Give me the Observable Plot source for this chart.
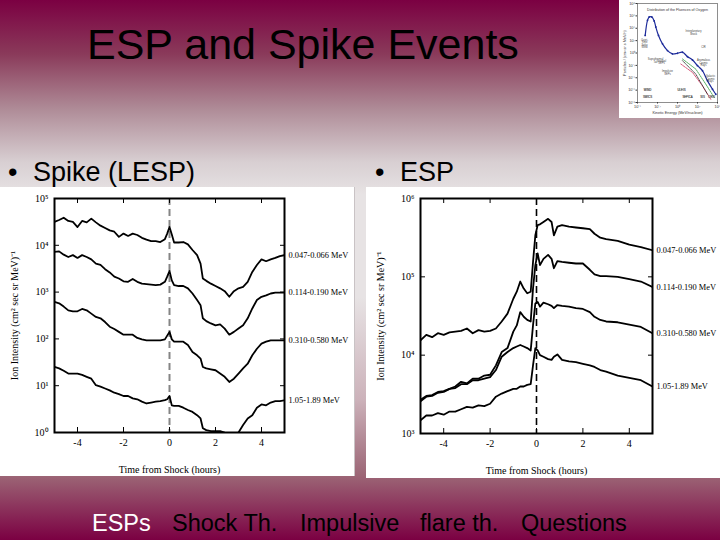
<!DOCTYPE html>
<html>
<head>
<meta charset="utf-8">
<script src="https://cdn.jsdelivr.net/npm/d3@7"></script>
<script src="https://cdn.jsdelivr.net/npm/@observablehq/plot@0.6"></script>
<style>
html,body{margin:0;padding:0;}
body{width:720px;height:540px;overflow:hidden;position:relative;font-family:"Liberation Sans",Arial,sans-serif;
background:linear-gradient(to bottom,#7b0042 0%,#8a3a5a 10%,#ae8a96 20%,#d8cfd2 30%,#e7e3e4 36%,#e7e3e4 55%,#ccb2ba 74%,#9c6676 88%,#7b0042 100%);}
.abs{position:absolute;white-space:nowrap;line-height:1;}
#title{left:87px;top:23px;font-size:43px;color:#000;}
.bul{font-size:27px;color:#000;top:159px;}
.nav{font-size:23.5px;top:512px;color:#000;}
.panel{background:#fff;}
svg{display:block;}
</style>
</head>
<body>
<div id="title" class="abs">ESP and Spike Events</div>
<div class="abs bul" style="left:8px">•</div>
<div class="abs bul" style="left:33px">Spike (LESP)</div>
<div class="abs bul" style="left:375px">•</div>
<div class="abs bul" style="left:400px">ESP</div>

<div id="thumb" class="abs panel" style="left:619px;top:0;width:101px;height:118px;"></div>
<div id="leftChart" class="abs panel" style="left:0;top:187px;width:354px;height:289px;box-shadow:1px 0 0 #c9c3c5;"></div>
<div id="rightChart" class="abs panel" style="left:366px;top:187px;width:354px;height:291px;"></div>

<div class="abs nav" style="left:92px;color:#fff">ESPs</div>
<div class="abs nav" style="left:172px">Shock Th.</div>
<div class="abs nav" style="left:300px">Impulsive</div>
<div class="abs nav" style="left:420px">flare th.</div>
<div class="abs nav" style="left:521px">Questions</div>

<script>
// ---------- Spike (LESP) event: time from shock (hours) and log10 ion intensity ----------
const bandNames = ["0.047-0.066 MeV", "0.114-0.190 MeV", "0.310-0.580 MeV", "1.05-1.89 MeV"];

const spikeHours = [-5,-4.8,-4.6,-4.4,-4.2,-4,-3.8,-3.6,-3.4,-3.2,-3,-2.8,-2.6,-2.4,-2.2,-2,-1.8,-1.6,-1.4,-1.2,-1,-0.8,-0.6,-0.4,-0.2,-0.1,0,0.1,0.2,0.4,0.6,0.8,1,1.2,1.35,1.45,1.6,1.8,2,2.2,2.4,2.6,2.8,3,3.2,3.4,3.6,3.8,4,4.2,4.4,4.6,4.8,5];
const spikeLog047 = [4.50,4.54,4.59,4.52,4.50,4.39,4.52,4.49,4.57,4.49,4.42,4.37,4.32,4.29,4.18,4.25,4.20,4.25,4.22,4.16,4.12,4.09,4.09,4.07,4.13,4.25,4.39,4.23,4.06,4.06,4.07,4.02,3.90,3.79,3.61,3.29,3.24,3.18,3.13,3.08,3.02,2.90,3.02,3.08,3.11,3.22,3.43,3.58,3.70,3.66,3.70,3.73,3.77,3.79];
const spikeLog114 = [3.86,3.87,3.80,3.75,3.79,3.73,3.79,3.75,3.70,3.61,3.58,3.49,3.42,3.33,3.29,3.23,3.22,3.28,3.22,3.18,3.17,3.16,3.15,3.16,3.22,3.33,3.45,3.25,3.15,3.13,3.13,3.08,2.97,2.83,2.72,2.44,2.38,2.33,2.29,2.31,2.22,2.09,2.15,2.22,2.29,2.44,2.65,2.83,2.90,2.93,2.97,2.99,2.99,2.99];
const spikeLog310 = [2.79,2.76,2.69,2.61,2.59,2.59,2.64,2.61,2.54,2.47,2.44,2.36,2.26,2.21,2.15,2.09,2.09,2.09,2.02,1.99,1.97,1.97,1.97,1.97,1.99,2.07,2.15,1.99,1.94,1.94,1.94,1.87,1.72,1.65,1.58,1.40,1.37,1.35,1.33,1.26,1.19,1.08,1.15,1.26,1.37,1.47,1.65,1.79,1.90,1.94,1.97,1.97,1.97,1.97];
const spikeLog105 = [1.40,1.37,1.32,1.26,1.26,1.26,1.23,1.19,1.15,1.01,0.98,0.94,0.90,0.85,0.82,0.78,0.78,0.73,0.71,0.66,0.62,0.64,0.66,0.67,0.69,0.71,0.78,0.58,0.57,0.57,0.53,0.48,0.44,0.37,0.30,0.09,0.05,0.03,0.03,0.03,0.0,-0.15,-0.10,0.0,0.16,0.30,0.37,0.53,0.60,0.58,0.64,0.67,0.67,0.69];

// ---------- ESP event ----------
const espHours = [-5,-4.75,-4.5,-4.25,-4,-3.75,-3.5,-3.25,-3,-2.75,-2.5,-2.25,-2,-1.75,-1.5,-1.25,-1,-0.85,-0.7,-0.55,-0.4,-0.25,-0.15,-0.05,0.05,0.15,0.3,0.5,0.65,0.75,0.9,1.1,1.4,1.7,2,2.3,2.5,2.75,3,3.5,4,4.5,5];
const espLog047 = [4.19,4.26,4.23,4.28,4.26,4.29,4.30,4.31,4.34,4.28,4.32,4.30,4.31,4.34,4.43,4.53,4.72,4.81,4.94,4.85,4.79,4.81,5.19,5.53,5.66,5.67,5.70,5.74,5.70,5.53,5.64,5.66,5.64,5.63,5.62,5.61,5.55,5.50,5.48,5.46,5.41,5.38,5.34];
const espLog114 = [3.43,3.48,3.49,3.53,3.54,3.57,3.60,3.66,3.64,3.70,3.70,3.74,3.75,3.87,4.04,4.09,4.30,4.38,4.55,4.49,4.45,4.43,4.85,5.15,5.30,5.15,5.23,5.28,5.23,5.11,5.20,5.19,5.18,5.17,5.17,5.09,5.03,5.01,5.01,5.00,4.97,4.94,4.87];
const espLog310 = [3.41,3.47,3.48,3.52,3.53,3.57,3.58,3.63,3.63,3.68,3.68,3.70,3.72,3.81,3.98,4.04,4.09,4.11,4.13,4.11,4.09,4.06,4.38,4.66,4.68,4.62,4.67,4.65,4.63,4.60,4.64,4.63,4.62,4.60,4.59,4.55,4.49,4.45,4.43,4.42,4.39,4.36,4.28];
const espLog105 = [3.17,3.23,3.23,3.26,3.24,3.28,3.28,3.31,3.34,3.33,3.36,3.35,3.38,3.47,3.51,3.54,3.57,3.57,3.60,3.60,3.62,3.63,3.87,4.09,4.06,4.00,3.98,3.95,3.94,3.98,4.01,3.94,3.92,3.91,3.89,3.87,3.85,3.81,3.79,3.74,3.71,3.68,3.60];

// ---------- axes ----------
const timeTicks = [-4, -2, 0, 2, 4];
const spikeYTicks = [1, 10, 100, 1000, 10000, 100000];
const spikeYLabels = ["10⁰", "10¹", "10²", "10³", "10⁴", "10⁵"];
const espYTicks = [1000, 10000, 100000, 1000000];
const espYLabels = ["10³", "10⁴", "10⁵", "10⁶"];
const xTitle = "Time from Shock (hours)";
const yTitle = "Ion Intensity (cm² sec sr MeV)⁻¹";

// ---------- thumbnail: oxygen fluence spectrum (log10 energy, log10 fluence) ----------
const thumbBlueLogE = [-3.23,-3.0,-2.83,-2.57,-2.33,-2.17,-1.9,-1.5,-1.0,-0.5,0,0.5,1.0,1.5,2.0,2.5,3.0,3.5,3.83];
const thumbBlueLogF = [2.84,5.28,5.83,5.83,5.17,4.20,2.84,1.48,0.39,-0.15,-0.04,0.12,-0.59,-1.13,-2.05,-2.87,-4.5,-5.86,-6.67];
const thumbGreenLogE = [0.5,1.83,2.83,3.67];
const thumbGreenLogF = [-0.97,-2.6,-5.04,-7.2];
const thumbRedLogE = [0.33,1.5,2.5,3.33];
const thumbRedLogF = [-1.78,-3.14,-5.32,-7.49];
const thumbBlackLogE = [0.5,1.83,3.0];
const thumbBlackLogF = [-1.24,-3.41,-6.67];
const thumbNotes = ["Quiet-Time Solar Wind", "Suprathermal Tail", "Interplanetary Shock", "CIR", "Gradual SEPs", "Impulsive SEPs", "Anomalous Cosmic Rays", "Galactic Cosmic Rays"];
const thumbNoteLogE = [-3.3, -2.2, 1.6, 2.6, -1.6, -1.0, 2.6, 3.3];
const thumbNoteLogF = [1.5, -1.2, 3.3, 0.9, -1.5, -3.2, -1.6, -4.2];
const thumbInstruments = ["WIND", "ULEIS", "SWICS", "SEPICA", "SIS", "CRIS"];
const thumbInstrLogE = [-3.0, 0.4, -3.0, 1.0, 2.5, 3.4];
const thumbInstrLogF = [-6.0, -6.0, -7.2, -7.2, -7.2, -7.2];
const thumbXTicks = [-4,-2,0,2,4];
const thumbYTicks = [-8,-6,-4,-2,0,2,4,6,8];
const thumbTitle = "Distribution of the Fluences of Oxygen";
const thumbXTitle = "Kinetic Energy (MeV/nucleon)";

function rowsFrom(hours, logSeries) {
  const rows = [];
  logSeries.forEach((s, k) => s.forEach((v, i) => rows.push({t: hours[i], v: Math.pow(10, v), band: bandNames[k]})));
  return rows;
}
const sup = {"-":"⁻","0":"⁰","1":"¹","2":"²","3":"³","4":"⁴","5":"⁵","6":"⁶","7":"⁷","8":"⁸","9":"⁹"};
const pow10 = d => "10" + String(d).split("").map(c => sup[c]).join("");

function eventChart(rows, o) {
  return Plot.plot({
    width: 354, height: o.height,
    marginLeft: 54, marginRight: o.marginRight, marginTop: 11, marginBottom: o.height - 11 - o.frameH,
    style: {background: "white", fontFamily: "'Liberation Serif','Times New Roman',serif", fontSize: "10px", color: "black"},
    x: {domain: [-5, 5]},
    y: {type: "log", domain: o.yDomain},
    marks: [
      Plot.ruleX([0], {stroke: o.dashColor, strokeWidth: o.dashWidth, strokeDasharray: "7,4"}),
      Plot.line(rows, {x: "t", y: "v", z: "band", stroke: "black", strokeWidth: 1.8, clip: true}),
      Plot.text(rows, Plot.selectLast({x: "t", y: "v", z: "band", text: "band", textAnchor: "start", dx: o.labelDx, fontSize: 8.4})),
      Plot.axisX({ticks: timeTicks, tickSize: -5, tickPadding: 11, tickFormat: d => String(d), fontSize: 10,
        label: xTitle, labelAnchor: "center", labelOffset: 40, labelArrow: "none"}),
      Plot.axisX({anchor: "top", ticks: timeTicks, tickSize: -4, tickFormat: () => "", label: null}),
      Plot.axisY({ticks: o.yTicks, tickSize: -5, tickPadding: 11, tickFormat: d => o.yLabels[o.yTicks.indexOf(d)], fontSize: 10,
        label: yTitle, labelAnchor: "center", labelOffset: 44, labelArrow: "none"}),
      Plot.axisY({anchor: "right", ticks: o.yTicks, tickSize: -5, tickFormat: () => "", label: null}),
      Plot.frame({stroke: "black", strokeWidth: 2})
    ]
  });
}

document.getElementById("leftChart").append(eventChart(
  rowsFrom(spikeHours, [spikeLog047, spikeLog114, spikeLog310, spikeLog105]),
  {height: 289, frameH: 234, marginRight: 70, yDomain: [1, 1e5], yTicks: spikeYTicks, yLabels: spikeYLabels,
   dashColor: "#858585", dashWidth: 2, labelDx: 4}));

document.getElementById("rightChart").append(eventChart(
  rowsFrom(espHours, [espLog047, espLog114, espLog310, espLog105]),
  {height: 291, frameH: 235, marginRight: 68, yDomain: [1e3, 1e6], yTicks: espYTicks, yLabels: espYLabels,
   dashColor: "#000", dashWidth: 1.6, labelDx: 4}));

// thumbnail
const pts = (E, F) => E.map((e, i) => ({e, f: F[i]}));
const notes = (T, E, F) => T.map((t, i) => ({t, e: E[i], f: F[i]}));
const thumb = Plot.plot({
  width: 101, height: 118, marginLeft: 18, marginRight: 3, marginTop: 3, marginBottom: 16,
  style: {background: "white", fontFamily: "'Liberation Sans',sans-serif", fontSize: "4px", color: "#333"},
  x: {domain: [-4, 4]},
  y: {domain: [-8, 8]},
  marks: [
    Plot.line(pts(thumbGreenLogE, thumbGreenLogF), {x: "e", y: "f", stroke: "#2a9a3a", strokeWidth: 0.8, strokeDasharray: "1.5,1"}),
    Plot.line(pts(thumbRedLogE, thumbRedLogF), {x: "e", y: "f", stroke: "#d0305a", strokeWidth: 0.8, strokeDasharray: "2,1"}),
    Plot.line(pts(thumbBlackLogE, thumbBlackLogF), {x: "e", y: "f", stroke: "#222", strokeWidth: 0.8, strokeDasharray: "1,1"}),
    Plot.line(pts(thumbBlueLogE, thumbBlueLogF), {x: "e", y: "f", stroke: "#1c2a9a", strokeWidth: 1.2, curve: "catmull-rom"}),
    Plot.dot(pts(thumbBlueLogE, thumbBlueLogF), {x: "e", y: "f", r: 0.9, fill: "#1c2a9a"}),
    Plot.text(notes(thumbNotes, thumbNoteLogE, thumbNoteLogF), {x: "e", y: "f", text: "t", fontSize: 2.6, fill: "#444", lineWidth: 5}),
    Plot.text(notes(thumbInstruments, thumbInstrLogE, thumbInstrLogF), {x: "e", y: "f", text: "t", fontSize: 2.8, fill: "#333", stroke: "#777", strokeWidth: 0.15}),
    Plot.text([thumbTitle], {frameAnchor: "top", dy: 5, fontSize: 3.6, fill: "#333"}),
    Plot.axisX({ticks: thumbXTicks, tickSize: 1.5, tickPadding: 1, tickFormat: pow10, fontSize: 3.8,
      label: thumbXTitle, labelAnchor: "center", labelOffset: 11, labelArrow: "none"}),
    Plot.axisY({ticks: thumbYTicks, tickSize: 1.5, tickPadding: 1, tickFormat: pow10, fontSize: 3.8,
      label: "Particles / (cm² sr s MeV/n)", labelAnchor: "center", labelOffset: 14, labelArrow: "none"}),
    Plot.frame({stroke: "#444", strokeWidth: 0.6})
  ]
});
document.getElementById("thumb").append(thumb);
</script>
</body>
</html>
